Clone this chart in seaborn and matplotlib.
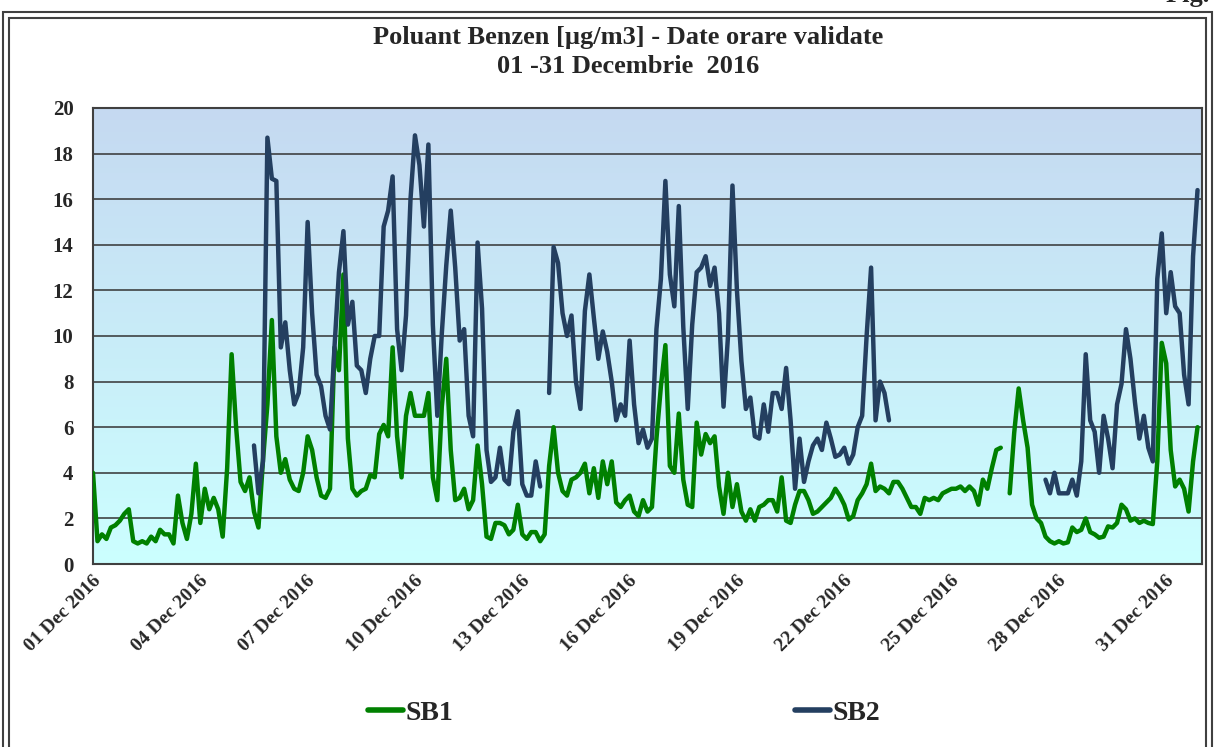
import numpy as np
import pandas as pd
import matplotlib
matplotlib.use("Agg")
import matplotlib.pyplot as plt
import matplotlib.dates as mdates
import matplotlib.transforms as mtransforms
from matplotlib.colors import LinearSegmentedColormap
from matplotlib.lines import Line2D
from matplotlib.patches import Rectangle
import seaborn as sns

nan = np.nan

# Benzen readings, 3-hourly (00, 03, ..., 21 h), one row per day of December 2016
sb1 = [
    4.0, 1.0, 1.3, 1.1, 1.6, 1.7, 1.9, 2.2,
    2.4, 1.0, 0.9, 1.0, 0.9, 1.2, 1.0, 1.5,
    1.3, 1.3, 0.9, 3.0, 1.8, 1.1, 2.2, 4.4,
    1.8, 3.3, 2.4, 2.9, 2.4, 1.2, 4.2, 9.2,
    6.0, 3.6, 3.2, 3.8, 2.3, 1.6, 4.5, 7.0,
    10.7, 5.6, 4.0, 4.6, 3.7, 3.3, 3.2, 4.0,
    5.6, 5.0, 3.8, 3.0, 2.9, 3.3, 9.5, 8.5,
    12.7, 5.5, 3.3, 3.0, 3.2, 3.3, 3.9, 3.8,
    5.7, 6.1, 5.6, 9.5, 5.6, 3.8, 6.5, 7.5,
    6.5, 6.5, 6.5, 7.5, 3.8, 2.8, 6.9, 9.0,
    5.0, 2.8, 2.9, 3.3, 2.4, 2.8, 5.2, 3.5,
    1.2, 1.1, 1.8, 1.8, 1.7, 1.3, 1.5, 2.6,
    1.3, 1.1, 1.4, 1.4, 1.0, 1.3, 4.3, 6.0,
    4.0, 3.2, 3.0, 3.7, 3.8, 4.0, 4.4, 3.1,
    4.2, 2.9, 4.5, 3.5, 4.5, 2.7, 2.5, 2.8,
    3.0, 2.3, 2.1, 2.8, 2.3, 2.5, 5.5, 7.8,
    9.6, 4.3, 4.0, 6.6, 3.7, 2.6, 2.5, 6.2,
    4.8, 5.7, 5.3, 5.6, 3.4, 2.2, 4.0, 2.5,
    3.5, 2.3, 1.9, 2.4, 1.9, 2.5, 2.6, 2.8,
    2.8, 2.3, 3.8, 1.9, 1.8, 2.6, 3.2, 3.2,
    2.8, 2.2, 2.3, 2.5, 2.7, 2.9, 3.3, 3.0,
    2.6, 1.95, 2.1, 2.8, 3.1, 3.5, 4.4, 3.2,
    3.4, 3.3, 3.1, 3.6, 3.6, 3.3, 2.9, 2.5,
    2.5, 2.2, 2.9, 2.8, 2.9, 2.8, 3.1, 3.2,
    3.3, 3.3, 3.4, 3.2, 3.4, 3.2, 2.6, 3.7,
    3.3, 4.2, 5.0, 5.1, nan, 3.1, 5.75, 7.7,
    6.3, 5.1, 2.6, 2.0, 1.8, 1.2, 1.0, 0.9,
    1.0, 0.9, 0.95, 1.6, 1.4, 1.5, 2.0, 1.4,
    1.3, 1.15, 1.2, 1.65, 1.6, 1.8, 2.6, 2.4,
    1.9, 2.0, 1.8, 1.9, 1.8, 1.75, 4.5, 9.7,
    8.8, 5.0, 3.4, 3.7, 3.3, 2.3, 4.5, 6.0,
]

sb2 = [
    nan, nan, nan, nan, nan, nan, nan, nan,
    nan, nan, nan, nan, nan, nan, nan, nan,
    nan, nan, nan, nan, nan, nan, nan, nan,
    nan, nan, nan, nan, nan, nan, nan, nan,
    nan, nan, nan, nan, 5.2, 3.1, 4.5, 18.7,
    16.9, 16.8, 9.5, 10.6, 8.5, 7.0, 7.5, 9.5,
    15.0, 11.0, 8.3, 7.8, 6.5, 5.9, 9.5, 12.8,
    14.6, 10.5, 11.5, 8.7, 8.5, 7.5, 9.0, 10.0,
    10.0, 14.8, 15.5, 17.0, 10.3, 8.5, 10.9, 16.0,
    18.8, 17.5, 14.8, 18.4, 10.5, 6.5, 10.1, 13.1,
    15.5, 13.0, 9.8, 10.3, 6.5, 5.6, 14.1, 11.2,
    5.0, 3.6, 3.8, 5.1, 3.7, 3.5, 5.8, 6.7,
    3.5, 3.0, 3.0, 4.5, 3.4, nan, 7.5, 13.9,
    13.2, 11.0, 10.0, 10.9, 8.0, 6.8, 11.1, 12.7,
    10.8, 9.0, 10.2, 9.3, 8.0, 6.3, 7.0, 6.5,
    9.8, 7.0, 5.3, 5.9, 5.1, 5.5, 10.3, 12.5,
    16.8, 12.7, 11.3, 15.7, 10.4, 6.8, 10.5, 12.8,
    13.0, 13.5, 12.2, 13.0, 11.0, 6.9, 10.0, 16.6,
    12.0, 8.9, 6.8, 7.3, 5.6, 5.5, 7.0, 5.8,
    7.5, 7.5, 6.8, 8.6, 6.3, 3.3, 5.5, 3.6,
    4.5, 5.2, 5.5, 5.0, 6.2, 5.5, 4.7, 4.8,
    5.1, 4.4, 4.8, 6.0, 6.5, 10.0, 13.0, 6.3,
    8.0, 7.5, 6.3, nan, nan, nan, nan, nan,
    nan, nan, nan, nan, nan, nan, nan, nan,
    nan, nan, nan, nan, nan, nan, nan, nan,
    nan, nan, nan, nan, nan, nan, nan, nan,
    nan, nan, nan, nan, nan, 3.7, 3.1, 4.0,
    3.1, 3.1, 3.1, 3.7, 3.0, 4.5, 9.2, 6.3,
    5.8, 4.0, 6.5, 5.5, 4.2, 7.0, 7.9, 10.3,
    9.0, 7.1, 5.5, 6.5, 5.1, 4.5, 12.5, 14.5,
    11.0, 12.8, 11.3, 11.0, 8.3, 7.0, 13.5, 16.4,
]

series_names = ["SB1", "SB2"]
series_colors = ["#008000", "#243F60"]
title = "Poluant Benzen [µg/m3] - Date orare validate\n01 -31 Decembrie  2016"
tick_dates = pd.date_range("2016-12-01", "2016-12-31", freq="3D")

times = pd.date_range("2016-12-01 00:00", periods=len(sb1), freq="3h")
df = pd.DataFrame({"time": times, "SB1": sb1, "SB2": sb2})

sns.set_theme(style="white")
plt.rcParams["font.family"] = ["Liberation Serif", "DejaVu Serif"]
plt.rcParams["font.weight"] = "bold"

W, H = 1215, 747
fig = plt.figure(figsize=(W / 100, H / 100), dpi=100)
ax = fig.add_axes([93 / W, 1 - 564 / H, (1202 - 93) / W, (564 - 108) / H])

# gradient background of the plot area
grad = np.linspace(0, 1, 256).reshape(-1, 1)
bg = LinearSegmentedColormap.from_list("bg", ["#CCFFFF", "#C5D9F1"])
ax.imshow(grad, extent=[0, 1, 0, 1], transform=ax.transAxes, origin="lower",
          cmap=bg, aspect="auto", zorder=0)

# draw each series, split at missing hours so gaps stay open
for name, color in zip(series_names, series_colors):
    part = df[["time", name]].copy()
    part["seg"] = part[name].isna().cumsum()
    part = part.dropna()
    sns.lineplot(data=part, x="time", y=name, units="seg", estimator=None,
                 color=color, linewidth=3.2, ax=ax, legend=False, zorder=3)

ax.set_xlim(times[0], pd.Timestamp("2017-01-01 00:00"))
ax.set_ylim(0, 20)
ax.set_xlabel("")
ax.set_ylabel("")

ax.set_yticks(range(0, 21, 2))
ax.set_axisbelow(True)
ax.yaxis.grid(True, color="#333333", linewidth=1.1)
ax.xaxis.grid(False)
for sp in ax.spines.values():
    sp.set_color("#404040")
    sp.set_linewidth(1.5)

ax.set_xticks(tick_dates)
ax.xaxis.set_major_formatter(mdates.DateFormatter("%d %b %Y"))
ax.tick_params(axis="y", length=0, pad=14, labelsize=15)
ax.tick_params(axis="x", length=0, pad=10, labelsize=14)
for lab in ax.get_yticklabels():
    lab.set_fontweight("bold")
# nudge the slanted date labels a little to the right, like the original
shift = mtransforms.ScaledTranslation(5 / 100, 0, fig.dpi_scale_trans)
for lab in ax.get_xticklabels():
    lab.set_fontweight("bold")
    lab.set_rotation(45)
    lab.set_ha("right")
    lab.set_va("center")
    lab.set_rotation_mode("anchor")
    lab.set_transform(lab.get_transform() + shift)

fig.text(0.517, 1 - 52 / H, title, ha="center", va="center",
         fontsize=19, fontweight="bold", linespacing=1.38)

# cropped figure caption at the top right corner
fig.text(1166 / W, 1 - 2 / H, "Fig. 13", ha="left", va="baseline",
         fontsize=19, fontweight="bold")

# legend below the chart
handles = [Line2D([], [], color=c, linewidth=4) for c in series_colors]
fig.legend(handles, series_names, loc="center", bbox_to_anchor=(0.514, 1 - 713 / H),
           ncol=2, frameon=False, handlelength=1.25, handletextpad=0.1,
           columnspacing=12.3, prop={"size": 20, "weight": "bold"})

# double border around the chart area
for off in [3, 9]:
    fig.add_artist(Rectangle((off / W, -0.05), (W - 2 * off) / W, 1.05 - (9 + off) / H,
                             transform=fig.transFigure, fill=False,
                             edgecolor="#404040", linewidth=1.5))

fig.savefig("out.png", dpi=100)
